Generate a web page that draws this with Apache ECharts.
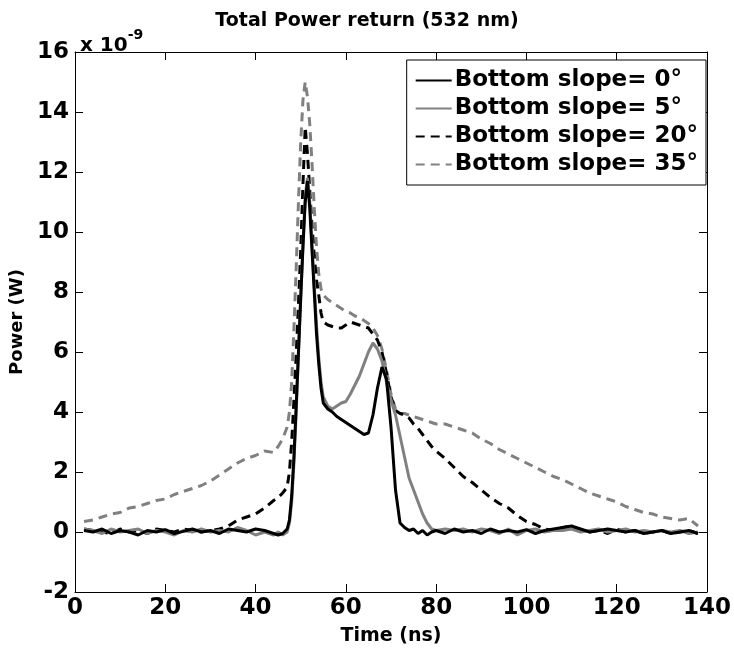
<!DOCTYPE html>
<html><head><meta charset="utf-8">
<script src="https://cdn.jsdelivr.net/npm/echarts@6/dist/echarts.min.js"></script>
<style>html,body{margin:0;padding:0;background:#fff}#c{width:734px;height:656px}</style>
</head><body><div id="c"></div>
<script>
const times = [2,4,6,8,10,12,14,16,18,20,22,24,26,28,30,32,34,36,38,40,42,44,
  45,46,47,47.5,48,48.5,49,49.5,50,50.5,51,51.5,52,52.5,53,53.5,54,54.5,55,
  56,57,58,59,60,61,62,63,64,65,66,67,68,69,70,71,72,73,74,75,76,77,78,79,80,
  82,84,86,88,90,92,94,96,98,100,102,104,106,108,110,112,114,116,118,120,122,124,126,128,130,132,134,136,138];

const slope0 = [0.05,0.0,0.1,-0.05,0.05,0.0,-0.1,0.05,0.0,0.08,-0.05,0.02,0.1,0.0,0.05,-0.05,0.1,0.05,0.0,0.1,0.05,-0.05,
  -0.1,-0.05,0.1,0.4,1.2,2.5,4.2,6.0,7.8,9.5,11.0,11.7,10.8,9.4,8.0,6.6,5.6,4.8,4.3,
  4.1,4.0,3.85,3.75,3.65,3.55,3.45,3.35,3.25,3.3,3.9,4.8,5.5,5.1,3.5,1.4,0.3,0.15,0.05,0.1,-0.05,0.05,-0.1,0.0,0.05,
  -0.05,0.1,0.0,0.05,-0.05,0.1,0.0,0.05,0.0,0.08,-0.05,0.05,0.1,0.15,0.2,0.1,0.0,0.05,0.1,0.05,0.0,0.05,-0.05,0.0,0.05,-0.05,0.0,0.05,-0.05];

const slope5 = [0.1,0.05,-0.05,0.1,0.0,0.05,0.1,-0.05,0.05,0.0,-0.1,0.05,0.0,0.1,0.0,0.05,0.0,0.15,0.05,-0.1,0.0,-0.1,
  0.0,-0.1,0.0,0.3,1.0,2.3,4.0,5.9,7.8,9.6,11.2,11.8,11.0,9.6,8.2,6.9,5.8,5.0,4.5,
  4.2,4.1,4.2,4.3,4.35,4.6,4.9,5.2,5.6,6.0,6.3,6.1,5.7,5.0,4.4,3.9,3.2,2.5,1.8,1.4,1.0,0.6,0.3,0.1,0.05,
  0.1,0.05,0.1,0.0,0.1,0.05,-0.05,0.1,-0.1,0.05,0.1,0.0,0.05,0.05,0.1,0.0,0.05,0.1,0.0,0.05,0.1,0.0,0.05,0.0,0.05,0.0,0.05,-0.05,0.0];

const slope20 = [0.1,0.05,0.0,-0.05,0.1,0.0,0.05,-0.05,0.1,0.05,0.0,0.1,0.05,0.0,0.05,0.1,0.2,0.4,0.5,0.6,0.8,1.05,
  1.15,1.3,1.5,2.0,3.0,4.4,5.9,7.6,9.4,11.6,13.5,12.6,11.4,10.2,9.2,8.4,7.9,7.3,7.0,
  6.9,6.85,6.8,6.8,6.9,7.0,6.95,6.9,6.85,6.8,6.6,6.4,6.0,5.3,4.5,4.05,3.95,3.9,3.8,3.6,3.45,3.25,3.05,2.85,2.7,
  2.45,2.15,1.85,1.65,1.4,1.15,0.95,0.8,0.55,0.35,0.25,0.1,0.05,0.15,0.2,0.05,0.0,0.05,-0.05,0.1,0.0,0.05,-0.05,0.0,0.05,-0.05,0.0,0.05,-0.05];

const slope35 = [0.35,0.4,0.5,0.6,0.65,0.8,0.85,0.95,1.05,1.1,1.25,1.35,1.45,1.55,1.7,1.9,2.1,2.3,2.45,2.55,2.7,2.65,
  2.85,3.1,3.5,4.0,5.0,6.8,8.8,11.0,13.0,14.4,15.0,14.5,13.6,12.3,10.8,9.5,8.6,8.1,7.9,
  7.75,7.65,7.55,7.45,7.35,7.3,7.2,7.15,7.05,6.95,6.8,6.55,6.1,5.4,4.6,4.1,3.95,3.95,3.9,3.85,3.8,3.75,3.7,3.65,3.6,
  3.6,3.5,3.4,3.3,3.1,2.95,2.75,2.6,2.45,2.3,2.15,2.0,1.85,1.75,1.6,1.45,1.3,1.2,1.1,1.0,0.85,0.75,0.65,0.6,0.5,0.45,0.4,0.45,0.2];

const seriesNames = ['Bottom slope= 0°','Bottom slope= 5°','Bottom slope= 20°','Bottom slope= 35°'];
const xTicks = [0,20,40,60,80,100,120,140];
const yTicks = [-2,0,2,4,6,8,10,12,14,16];

const FONT = "'DejaVu Sans', 'Liberation Sans', Arial, sans-serif";
const pair = v => times.map((t,i)=>[t,v[i]]);
const styles = [
  {color:'#000000', type:'solid'},
  {color:'#808080', type:'solid'},
  {color:'#000000', type:[9,6]},
  {color:'#808080', type:[9,6]}
];
const data = [slope0, slope5, slope20, slope35];

const chart = echarts.init(document.getElementById('c'), null, {renderer:'canvas'});
const axisCommon = {
  axisLine:{show:true, onZero:false, lineStyle:{color:'#000', width:1}},
  axisTick:{show:true, inside:true, length:8, lineStyle:{color:'#000', width:1}},
  splitLine:{show:false}
};
chart.setOption({
  animation:false,
  backgroundColor:'#fff',
  title:{text:'Total Power return (532 nm)', left:'center', top:7,
    textStyle:{fontFamily:FONT, fontWeight:'bold', fontSize:19, color:'#000'}},
  graphic:[{type:'text', left:80, top:28, style:{text:'{a|x 10}{b|-9}', rich:{
    a:{fontFamily:FONT, fontWeight:'bold', fontSize:20, fill:'#000', padding:[8,0,0,0]},
    b:{fontFamily:FONT, fontWeight:'bold', fontSize:14, fill:'#000', verticalAlign:'top'}}}}],
  legend:{
    orient:'vertical', right:28, top:60, data:seriesNames,
    backgroundColor:'#fff', borderColor:'#000', borderWidth:1, padding:[9,8,9,8],
    itemWidth:36, itemHeight:2, itemGap:5,
    itemStyle:{color:'rgba(0,0,0,0)', borderWidth:0, opacity:0},
    textStyle:{fontFamily:FONT, fontWeight:'bold', fontSize:23, color:'#000', padding:[0,0,0,-2]}
  },
  grid:{left:75, right:25, top:52, bottom:64, containLabel:false},
  xAxis:[
    Object.assign({type:'value', min:0, max:140, interval:20, position:'bottom',
      name:'Time (ns)', nameLocation:'middle', nameGap:35,
      nameTextStyle:{fontFamily:FONT, fontWeight:'bold', fontSize:19, color:'#000'},
      axisLabel:{fontFamily:FONT, fontWeight:'bold', fontSize:23, color:'#000', margin:5,
        formatter:v=>xTicks.includes(v)?String(v):''}}, axisCommon),
    Object.assign({type:'value', min:0, max:140, interval:20, position:'top', axisLabel:{show:false}}, axisCommon)
  ],
  yAxis:[
    Object.assign({type:'value', min:-2, max:16, interval:2, position:'left',
      name:'Power (W)', nameLocation:'middle', nameGap:41,
      nameTextStyle:{fontFamily:FONT, fontWeight:'bold', fontSize:18, color:'#000'},
      axisLabel:{fontFamily:FONT, fontWeight:'bold', fontSize:23, color:'#000', margin:6,
        formatter:v=>yTicks.includes(v)?String(v):''}}, axisCommon),
    Object.assign({type:'value', min:-2, max:16, interval:2, position:'right', axisLabel:{show:false}}, axisCommon)
  ],
  series: data.map((v,i)=>({
    name:seriesNames[i], type:'line', data:pair(v), xAxisIndex:0, yAxisIndex:0,
    symbol:'none', showSymbol:false, smooth:false,
    lineStyle:{color:styles[i].color, width:3, type:styles[i].type},
    itemStyle:{color:styles[i].color},
    z: [4,3,2,1][i]
  }))
});
</script></body></html>
